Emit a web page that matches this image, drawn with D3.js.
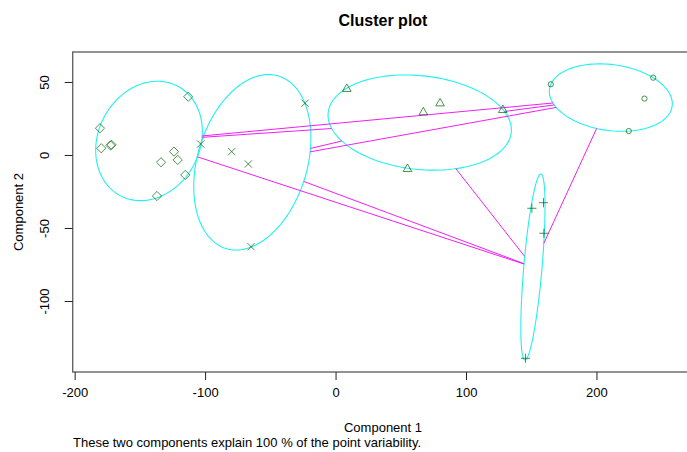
<!DOCTYPE html>
<html>
<head>
<meta charset="utf-8">
<script src="https://cdn.jsdelivr.net/npm/d3@7"></script>
<style>
  body { margin: 0; background: #fff; }
  text { font-family: "Liberation Sans", Arial, sans-serif; fill: #000; }
</style>
</head>
<body>
<svg id="chart"></svg>
<script>
// point coordinates (component 1, component 2) per cluster
var clusterDiamond = [[-180.6,18.3],[-179.6,4.6],[-172.5,6.5],[-171.8,7.0],[-112.9,39.9],[-133.8,-5.0],[-123.8,2.3],[-121.0,-3.4],[-115.2,-13.7],[-136.9,-28.1]];
var clusterCross   = [[-103.4,7.5],[-79.6,2.3],[-66.9,-6.2],[-23.4,35.4],[-64.8,-62.8]];
var clusterTri     = [[8.6,45.7],[80.1,35.8],[67.3,29.7],[128.2,31.3],[55.1,-9.1]];
var clusterCircle  = [[165.0,48.4],[243.5,52.9],[236.8,38.6],[224.8,16.4]];
var clusterPlus    = [[150.5,-36.5],[159.4,-32.7],[159.7,-53.6],[145.6,-139.2]];

// spanning ellipses: centre x, centre y, semi axis a, semi axis b, angle (deg)
var ellCx    = [-143.0, -63.8, 64.5, 211.0, 151.3];
var ellCy    = [9.6, -5.0, 22.2, 39.3, -76.7];
var ellA     = [44, 62.5, 70.5, 47.4, 64];
var ellB     = [37.5, 41.5, 32.1, 22.6, 7];
var ellAngle = [45, 68.4, -5.2, -6.6, 84.5];

var xTicks = [-200, -100, 0, 100, 200];
var yTicks = [50, 0, -50, -100];

var width = 687, height = 452;
var svg = d3.select("#chart").attr("width", width).attr("height", height);

var x = d3.scaleLinear().domain([-201.5, 274]).range([72.7, 693]);
var y = d3.scaleLinear().domain([-148.6, 70.5]).range([372, 52]);

//title
svg.append("text")
    .attr("x", 383).attr("y", 26)
    .attr("text-anchor", "middle")
    .style("font-size", "16px").style("font-weight", "bold")
    .text("Cluster plot");

var plot = svg.append("g");

// ellipses
var ellipses = ellCx.map(function(d, i) {
    return {cx: ellCx[i], cy: ellCy[i], a: ellA[i], b: ellB[i], th: ellAngle[i] * Math.PI / 180};
});

function ellPoints(e) {
    var pts = [];
    for (var k = 0; k < 120; k++) {
        var t = 2 * Math.PI * k / 120;
        var px = e.a * Math.cos(t), py = e.b * Math.sin(t);
        pts.push([e.cx + px * Math.cos(e.th) - py * Math.sin(e.th),
                  e.cy + px * Math.sin(e.th) + py * Math.cos(e.th)]);
    }
    return pts;
}

var line = d3.line()
    .x(function(d) { return x(d[0]); })
    .y(function(d) { return y(d[1]); })
    .curve(d3.curveLinearClosed);

// distance segments between ellipse boundaries (along centre-centre line)
function boundaryT(e, dx, dy) {
    var u = dx * Math.cos(e.th) + dy * Math.sin(e.th);
    var v = -dx * Math.sin(e.th) + dy * Math.cos(e.th);
    return 1 / Math.sqrt(u * u / (e.a * e.a) + v * v / (e.b * e.b));
}
var segs = [];
for (var i = 0; i < ellipses.length - 1; i++) {
    for (var j = i + 1; j < ellipses.length; j++) {
        var ei = ellipses[i], ej = ellipses[j];
        var dx = ej.cx - ei.cx, dy = ej.cy - ei.cy;
        var t1 = boundaryT(ei, dx, dy), t2 = 1 - boundaryT(ej, dx, dy);
        if (t1 < t2)
            segs.push([ei.cx + t1 * dx, ei.cy + t1 * dy, ei.cx + t2 * dx, ei.cy + t2 * dy]);
    }
}

plot.selectAll("path.ell")
    .data(ellipses)
    .enter()
    .append("path")
    .attr("class", "ell")
    .attr("d", function(e) { return line(ellPoints(e)); })
    .style("fill", "none")
    .style("stroke", "#22f0f0")
    .style("stroke-width", "1.1px");

plot.selectAll("line.seg")
    .data(segs)
    .enter()
    .append("line")
    .attr("class", "seg")
    .attr("x1", function(d) { return x(d[0]); })
    .attr("y1", function(d) { return y(d[1]); })
    .attr("x2", function(d) { return x(d[2]); })
    .attr("y2", function(d) { return y(d[3]); })
    .style("stroke", "#f020f0")
    .style("stroke-width", "1px");

// point symbols
var ptColor = "#006400";
function addSymbols(data, pathFn) {
    plot.selectAll(null)
        .data(data)
        .enter()
        .append("path")
        .attr("d", function(d) { return pathFn(x(d[0]), y(d[1])); })
        .style("fill", "none")
        .style("stroke", ptColor)
        .style("stroke-opacity", 0.7)
        .style("stroke-width", "1px");
}
addSymbols(clusterDiamond, function(px, py) {
    var r = 4.6;
    return "M" + px + "," + (py - r) + "L" + (px + r) + "," + py + "L" + px + "," + (py + r) + "L" + (px - r) + "," + py + "Z";
});
addSymbols(clusterCross, function(px, py) {
    var r = 3.6;
    return "M" + (px - r) + "," + (py - r) + "L" + (px + r) + "," + (py + r) + "M" + (px - r) + "," + (py + r) + "L" + (px + r) + "," + (py - r);
});
addSymbols(clusterTri, function(px, py) {
    var r = 4.3;
    return "M" + px + "," + (py - r) + "L" + (px + r) + "," + (py + r * 0.75) + "L" + (px - r) + "," + (py + r * 0.75) + "Z";
});
addSymbols(clusterCircle, function(px, py) {
    var r = 2.6;
    return "M" + (px - r) + "," + py + "a" + r + "," + r + " 0 1,0 " + (2 * r) + ",0a" + r + "," + r + " 0 1,0 " + (-2 * r) + ",0";
});
addSymbols(clusterPlus, function(px, py) {
    var r = 4.6;
    return "M" + (px - r) + "," + py + "L" + (px + r) + "," + py + "M" + px + "," + (py - r) + "L" + px + "," + (py + r);
});

// box
svg.append("rect")
    .attr("x", 72.7).attr("y", 52)
    .attr("width", 693 - 72.7).attr("height", 372 - 52)
    .style("fill", "none")
    .style("stroke", "#666")
    .style("stroke-width", "1.4px");

// axes (plain hyphen minus like R)
var fmt = function(d) { return String(d); };
var xAxis = svg.append("g").attr("transform", "translate(0,372)")
    .call(d3.axisBottom(x).tickValues(xTicks).tickFormat(fmt).tickSize(8).tickPadding(8));
var yAxis = svg.append("g").attr("transform", "translate(72.7,0)")
    .call(d3.axisLeft(y).tickValues(yTicks).tickFormat(fmt).tickSize(8).tickPadding(8));
[xAxis, yAxis].forEach(function(ax) {
    ax.select(".domain").remove();
    ax.selectAll(".tick line").style("stroke", "#222");
    ax.selectAll(".tick text")
        .style("font-size", "13px")
        .style("font-family", "Liberation Sans, Arial, sans-serif")
        .style("fill", "#000");
});
yAxis.selectAll(".tick text")
    .attr("x", null).attr("dy", null)
    .attr("text-anchor", "middle")
    .attr("transform", "translate(-28,0) rotate(-90) translate(0,4)");

// axis titles
svg.append("text")
    .attr("x", 383).attr("y", 432)
    .attr("text-anchor", "middle")
    .style("font-size", "13px")
    .text("Component 1");

svg.append("text")
    .attr("transform", "translate(23,212) rotate(-90)")
    .attr("text-anchor", "middle")
    .style("font-size", "13px")
    .text("Component 2");

svg.append("text")
    .attr("x", 73).attr("y", 447)
    .style("font-size", "13px")
    .text("These two components explain 100 % of the point variability.");
</script>
</body>
</html>
